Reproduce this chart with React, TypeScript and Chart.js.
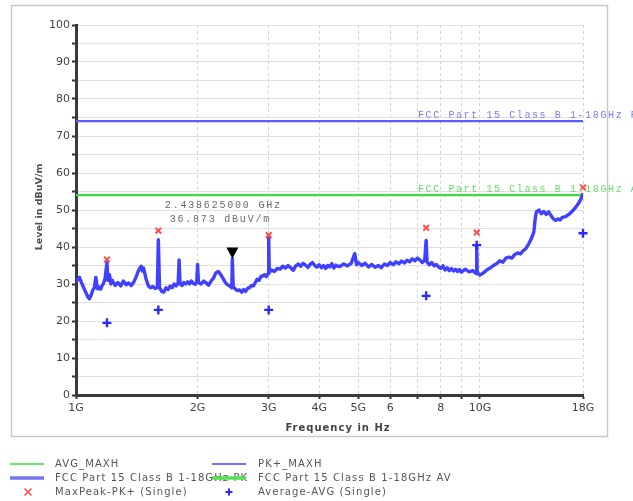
import React, { useEffect, useRef } from "react";
import { Chart, registerables } from "chart.js";

Chart.register(...registerables);

// ---- Data ----
const traceFreqGHz = [
  1.0, 1.01, 1.02, 1.03, 1.04, 1.05, 1.06, 1.07, 1.08, 1.09, 1.1, 1.11, 1.12, 1.13, 1.14, 1.15, 1.16, 1.17, 1.18, 1.193,
  1.2, 1.21, 1.22, 1.23, 1.25, 1.27, 1.29, 1.31, 1.33, 1.35, 1.37, 1.39, 1.41, 1.43, 1.45, 1.46, 1.47, 1.49, 1.51, 1.53,
  1.55, 1.57, 1.59, 1.599, 1.61, 1.63, 1.65, 1.67, 1.69, 1.71, 1.73, 1.75, 1.77, 1.79, 1.8, 1.81, 1.83, 1.85, 1.87, 1.89,
  1.91, 1.93, 1.95, 1.97, 1.99, 2.0, 2.01, 2.04, 2.07, 2.1, 2.13, 2.16, 2.19, 2.22, 2.25, 2.28, 2.31, 2.34, 2.37, 2.4,
  2.43, 2.4386, 2.45, 2.48, 2.51, 2.54, 2.57, 2.6, 2.63, 2.66, 2.69, 2.72, 2.75, 2.78, 2.81, 2.84, 2.87, 2.9, 2.93, 2.96,
  2.99, 3.0, 3.01, 3.05, 3.1, 3.15, 3.2, 3.25, 3.3, 3.35, 3.4, 3.45, 3.5, 3.55, 3.6, 3.65, 3.7, 3.75, 3.8, 3.85,
  3.9, 3.95, 4.0, 4.05, 4.1, 4.15, 4.2, 4.25, 4.3, 4.35, 4.4, 4.45, 4.5, 4.6, 4.7, 4.8, 4.9, 4.95, 5.0, 5.1,
  5.2, 5.3, 5.4, 5.5, 5.6, 5.7, 5.8, 5.9, 6.0, 6.1, 6.2, 6.3, 6.4, 6.5, 6.6, 6.7, 6.8, 6.9, 7.0, 7.1,
  7.2, 7.3, 7.36, 7.4, 7.5, 7.6, 7.7, 7.8, 7.9, 8.0, 8.1, 8.2, 8.3, 8.4, 8.5, 8.6, 8.7, 8.8, 8.9, 9.0,
  9.2, 9.4, 9.6, 9.8, 9.82, 9.85, 10.0, 10.2, 10.4, 10.6, 10.8, 11.0, 11.2, 11.4, 11.6, 11.8, 12.0, 12.2, 12.4, 12.6,
  12.8, 13.0, 13.2, 13.4, 13.6, 13.7, 13.8, 14.0, 14.2, 14.4, 14.6, 14.8, 15.0, 15.2, 15.4, 15.6, 15.8, 16.0, 16.3, 16.6,
  16.9, 17.2, 17.5, 17.8, 18.0,
];
const traceLevel = [
  30.5, 31.2, 31.8, 30.6, 29.5, 28.4, 27.5, 26.5, 26.0, 27.0, 28.3, 29.0, 31.8, 28.7, 29.2, 28.6, 29.5, 30.2, 31.5, 35.8,
  31.0, 32.5, 30.0, 31.0, 29.6, 30.4, 29.5, 30.8, 29.8, 30.3, 29.6, 30.5, 32.0, 33.8, 34.8, 33.5, 34.3, 31.5, 29.5, 29.0,
  29.3, 28.8, 29.0, 42.0, 29.0, 28.0, 27.8, 29.0, 28.5, 29.4, 29.0, 30.0, 29.5, 30.2, 36.5, 30.0, 29.6, 30.4, 30.0, 30.6,
  30.0, 30.8, 30.2, 29.9, 30.5, 35.3, 30.4, 30.0, 30.8, 30.3, 29.7, 30.8, 31.6, 33.0, 33.4, 32.6, 31.6, 30.5, 29.8, 29.5,
  29.0, 36.9, 29.3, 28.6, 28.2, 28.4, 27.8, 28.5, 28.0, 28.8, 29.0, 29.6, 29.5, 30.4, 31.3, 31.0, 32.0, 32.2, 32.5, 32.0,
  32.8, 42.8, 33.2, 33.8, 33.4, 34.2, 34.0, 34.8, 34.3, 35.0, 34.4, 33.7, 34.9, 35.4, 34.8, 35.6, 35.1, 34.5, 35.3, 35.8,
  35.0, 34.6, 35.2, 34.4, 35.0, 34.2, 35.0, 34.6, 35.5, 34.3, 35.1, 34.8, 34.7, 35.4, 34.9, 35.6, 38.2, 35.2, 35.8, 35.0,
  35.6, 34.6, 35.3, 34.5, 35.0, 34.4, 35.4, 35.0, 35.8, 35.2, 36.0, 35.5, 36.2, 35.7, 36.4, 36.0, 36.8, 36.3, 37.0, 36.5,
  35.8, 36.4, 41.8, 35.9, 35.2, 35.8, 34.9, 35.3, 34.6, 34.2, 34.9, 33.8, 34.4, 33.6, 34.2, 33.5, 34.0, 33.4, 33.9, 33.2,
  34.0, 33.3, 33.6, 32.8, 40.5, 33.0, 32.4, 33.0, 33.8, 34.3, 35.0, 35.5, 36.3, 35.9, 37.0, 37.3, 37.0, 38.0, 38.4, 38.1,
  39.0, 39.6, 40.8, 42.2, 44.0, 47.5, 49.5, 50.0, 49.0, 49.6, 48.8, 49.5, 48.5, 47.6, 47.2, 47.6, 47.3, 48.0, 48.2, 48.8,
  49.6, 50.5, 51.6, 53.0, 54.5,
];
const peakFreqGHz = [1.193, 1.599, 3.0, 7.36, 9.82, 18.0];
const peakLevel = [36.6, 44.4, 43.2, 45.2, 43.9, 56.1];
const avgFreqGHz = [1.193, 1.599, 3.0, 7.36, 9.82, 18.0];
const avgLevel = [19.5, 23.0, 23.0, 26.8, 40.5, 43.7];
const limitFreqGHz = [1, 18];
const pkLimitLevel = [74, 74];
const avLimitLevel = [54, 54];
const xTickValues = [1, 2, 3, 4, 5, 6, 7, 8, 9, 10, 18];
const xTickLabels = ["1G", "2G", "3G", "4G", "5G", "6", "", "8", "", "10G", "18G"];
const markerFreqGHz = 2.438625;
const markerLevel = 36.873;
const markerLines = ["2.438625000 GHz", "36.873 dBuV/m"];
const pkLimitLabel = "FCC Part 15 Class B 1-18GHz PK";
const avLimitLabel = "FCC Part 15 Class B 1-18GHz AV";
const xTitle = "Frequency in Hz";
const yTitle = "Level in dBuV/m";

const COLORS = {
  trace: "#4040ff",
  pk: "#5a5aff",
  av: "#3fdc3f",
  peak: "#ff4a4a",
  avg: "#2a2aff",
  text: "#555555",
};

const legendItems = [
  { label: "AVG_MAXH", kind: "line", color: COLORS.av, width: 1.5, col: 0, row: 0 },
  { label: "PK+_MAXH", kind: "line", color: "#4444ff", width: 1.5, col: 1, row: 0 },
  { label: pkLimitLabel, kind: "line", color: "#7474f2", width: 3.5, col: 0, row: 1 },
  { label: avLimitLabel, kind: "line", color: "#55e055", width: 3.5, col: 1, row: 1 },
  { label: "MaxPeak-PK+ (Single)", kind: "x", color: COLORS.peak, width: 1.5, col: 0, row: 2 },
  { label: "Average-AVG (Single)", kind: "plus", color: COLORS.avg, width: 2, col: 1, row: 2 },
];

const toXY = (xs: number[], ys: number[]) => xs.map((x, i) => ({ x, y: ys[i] }));

const extrasPlugin = {
  id: "extras",
  beforeDraw(chart: any) {
    const { ctx, width, height } = chart;
    ctx.save();
    ctx.fillStyle = "#ffffff";
    ctx.fillRect(0, 0, width, height);
    ctx.strokeStyle = "#c9c9c9";
    ctx.lineWidth = 1.5;
    ctx.strokeRect(11.5, 5.5, 596, 431);
    ctx.restore();
  },
  afterDatasetsDraw(chart: any) {
    const { ctx } = chart;
    const xs = chart.scales.x;
    const ys = chart.scales.y;
    ctx.save();
    // marker triangle
    const mx = xs.getPixelForValue(markerFreqGHz);
    const my = ys.getPixelForValue(markerLevel);
    ctx.fillStyle = "#000000";
    ctx.beginPath();
    ctx.moveTo(mx, my);
    ctx.lineTo(mx - 6, my - 11);
    ctx.lineTo(mx + 6, my - 11);
    ctx.closePath();
    ctx.fill();
    // marker annotation
    ctx.fillStyle = "#6a6a6a";
    ctx.font = "10px 'Liberation Mono'";
    (ctx as any).letterSpacing = "1.8px";
    ctx.textAlign = "center";
    ctx.textBaseline = "middle";
    ctx.fillText(markerLines[0], mx - 9, my - 53);
    ctx.fillText(markerLines[1], mx - 12, my - 39);
    // limit labels
    ctx.textAlign = "left";
    ctx.textBaseline = "bottom";
    (ctx as any).letterSpacing = "1.6px";
    ctx.fillStyle = "#7a7aff";
    ctx.fillText(pkLimitLabel, 418, ys.getPixelForValue(pkLimitLevel[0]) - 0.5);
    ctx.fillStyle = "#66dd66";
    ctx.fillText(avLimitLabel, 418, ys.getPixelForValue(avLimitLevel[0]) - 0.5);
    ctx.restore();
  },
  afterDraw(chart: any) {
    const { ctx } = chart;
    ctx.save();
    // axis titles
    ctx.fillStyle = "#444444";
    ctx.font = "bold 10px 'DejaVu Sans'";
    (ctx as any).letterSpacing = "1px";
    ctx.textAlign = "center";
    ctx.textBaseline = "middle";
    ctx.fillText(xTitle, 338, 428);
    (ctx as any).letterSpacing = "0px";
    ctx.translate(40, 207);
    ctx.rotate(-Math.PI / 2);
    ctx.fillStyle = "#505050";
    ctx.font = "bold 9.5px 'DejaVu Sans'";
    ctx.fillText(yTitle, 0, 0);
    ctx.restore();

    // legend
    ctx.save();
    const rowsY = [464, 478, 492];
    const colLineX = [10, 212];
    const colTextX = [55, 258];
    ctx.font = "10px 'DejaVu Sans'";
    (ctx as any).letterSpacing = "1.1px";
    ctx.textAlign = "left";
    ctx.textBaseline = "middle";
    ctx.fillStyle = COLORS.text;
    legendItems.forEach((it) => {
      ctx.fillText(it.label, colTextX[it.col], rowsY[it.row]);
    });
    legendItems.forEach((it) => {
      const y = rowsY[it.row];
      const x0 = colLineX[it.col];
      ctx.strokeStyle = it.color;
      ctx.lineWidth = it.width;
      ctx.beginPath();
      if (it.kind === "line") {
        ctx.moveTo(x0, y);
        ctx.lineTo(x0 + 34, y);
      } else if (it.kind === "x") {
        const cx = x0 + 18;
        ctx.moveTo(cx - 3.5, y - 3.5);
        ctx.lineTo(cx + 3.5, y + 3.5);
        ctx.moveTo(cx + 3.5, y - 3.5);
        ctx.lineTo(cx - 3.5, y + 3.5);
      } else {
        const cx = x0 + 17;
        ctx.moveTo(cx - 3.5, y);
        ctx.lineTo(cx + 3.5, y);
        ctx.moveTo(cx, y - 3.5);
        ctx.lineTo(cx, y + 3.5);
      }
      ctx.stroke();
    });
    ctx.restore();
  },
};

export default function App() {
  const canvasRef = useRef<HTMLCanvasElement | null>(null);

  useEffect(() => {
    if (!canvasRef.current) return;
    const chart = new Chart(canvasRef.current, {
      type: "scatter",
      data: {
        datasets: [
          {
            label: "FCC Part 15 Class B 1-18GHz PK",
            data: toXY(limitFreqGHz, pkLimitLevel),
            showLine: true,
            borderColor: COLORS.pk,
            borderWidth: 2.2,
            pointRadius: 0,
            order: 5,
          },
          {
            label: "FCC Part 15 Class B 1-18GHz AV",
            data: toXY(limitFreqGHz, avLimitLevel),
            showLine: true,
            borderColor: COLORS.av,
            borderWidth: 2.2,
            pointRadius: 0,
            order: 5,
          },
          {
            label: "PK+_MAXH",
            data: toXY(traceFreqGHz, traceLevel),
            showLine: true,
            borderColor: COLORS.trace,
            borderWidth: 3.4,
            borderJoinStyle: "round",
            pointRadius: 0,
            tension: 0,
            order: 4,
          },
          {
            label: "MaxPeak-PK+ (Single)",
            data: toXY(peakFreqGHz, peakLevel),
            showLine: false,
            pointStyle: "crossRot",
            pointRadius: 4,
            borderColor: COLORS.peak,
            backgroundColor: COLORS.peak,
            borderWidth: 2,
            clip: false,
            order: 1,
          },
          {
            label: "Average-AVG (Single)",
            data: toXY(avgFreqGHz, avgLevel),
            showLine: false,
            pointStyle: "cross",
            pointRadius: 4.5,
            borderColor: COLORS.avg,
            backgroundColor: COLORS.avg,
            borderWidth: 2.4,
            clip: false,
            order: 1,
          },
        ] as any,
      },
      options: {
        animation: false,
        responsive: false,
        maintainAspectRatio: false,
        devicePixelRatio: 1,
        layout: { padding: { left: 0, top: 25, right: 50, bottom: 86 } },
        plugins: {
          legend: { display: false },
          tooltip: { enabled: false },
        },
        scales: {
          x: {
            type: "logarithmic",
            min: 1,
            max: 18,
            afterBuildTicks: (scale: any) => {
              scale.ticks = xTickValues.map((v) => ({ value: v }));
            },
            afterFit: (scale: any) => {
              scale.height = 20;
            },
            ticks: {
              autoSkip: false,
              maxRotation: 0,
              minRotation: 0,
              padding: 3,
              color: "#444444",
              font: { family: "'DejaVu Sans'", size: 11 },
              callback: (_v: any, i: number) => xTickLabels[i],
            },
            grid: {
              color: "#d2d2d2",
              lineWidth: 1,
              tickColor: "#333333",
              tickLength: 4,
              tickWidth: 2,
            },
            border: { display: true, color: "#3a3a3a", width: 3, dash: [3, 3] },
          },
          y: {
            type: "linear",
            min: 0,
            max: 100,
            afterFit: (scale: any) => {
              scale.width = 76;
            },
            ticks: {
              stepSize: 5,
              padding: 2,
              color: "#444444",
              font: { family: "'DejaVu Sans'", size: 11 },
              callback: (v: any) => (Number(v) % 10 === 0 ? String(v) : ""),
            },
            grid: {
              color: "#e0e0e0",
              lineWidth: 1,
              tickColor: "#333333",
              tickLength: 4,
              tickWidth: 2,
            },
            border: { display: true, color: "#3a3a3a", width: 3 },
          },
        },
      } as any,
      plugins: [extrasPlugin as any],
    });
    return () => chart.destroy();
  }, []);

  return (
    <div style={{ position: "fixed", left: 0, top: 0, width: 633, height: 501, background: "#fff" }}>
      <canvas ref={canvasRef} width={633} height={501} style={{ width: 633, height: 501, display: "block" }} />
    </div>
  );
}
